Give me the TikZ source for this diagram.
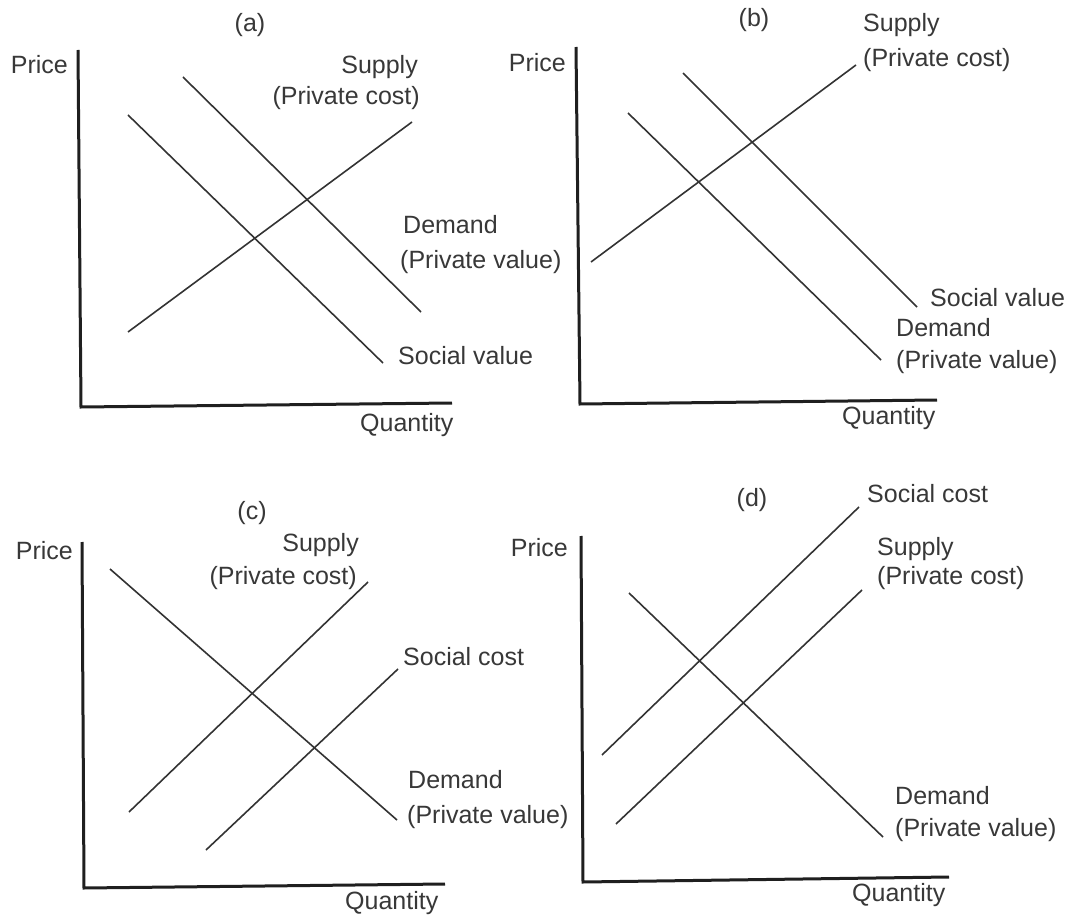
\documentclass[tikz,border=0pt]{standalone}
\usepackage{fontspec}
\setmainfont{Liberation Sans}
\begin{document}
\begin{tikzpicture}[x=1pt,y=-1pt,
  axis/.style={line width=3pt,draw=black!88,line join=miter},
  curve/.style={line width=1.6pt,draw=black!80},
  lbl/.style={inner sep=0pt,anchor=west,text=black!78,
    font=\fontsize{25}{30}\selectfont,text height=18pt,text depth=5pt},
  lblr/.style={lbl,anchor=east},
  ttl/.style={lbl,anchor=center}]
\useasboundingbox[fill=white] (0,0) rectangle (1072,920);

% ---------- (a) ----------
\coordinate (aY) at (78,50);
\coordinate (aO) at (81,407);
\coordinate (aX) at (452,403);
\draw[axis] (aY) -- (aO) -- (aX);
\coordinate (aS1) at (128,332); \coordinate (aS2) at (412,122);
\coordinate (aD1) at (183,77);  \coordinate (aD2) at (421,312);
\coordinate (aV1) at (128,115); \coordinate (aV2) at (383,363);
\draw[curve] (aS1) -- (aS2);
\draw[curve] (aD1) -- (aD2);
\draw[curve] (aV1) -- (aV2);
\node[ttl] (aT) at (250,25) {(a)};
\node[lblr] (aP) at (68,67) {Price};
\node[lbl] (aQ) at (360,425) {Quantity};
\node[lblr] (aSup) at (418,67) {Supply};
\node[lblr] (aSupB) at (420,98) {(Private cost)};
\node[lbl] (aDem) at (403,227) {Demand};
\node[lbl] (aDemB) at (400,262) {(Private value)};
\node[lbl] (aSoc) at (398,358) {Social value};

% ---------- (b) ----------
\coordinate (bY) at (576,47);
\coordinate (bO) at (580,404);
\coordinate (bX) at (937,400);
\draw[axis] (bY) -- (bO) -- (bX);
\coordinate (bS1) at (591,262); \coordinate (bS2) at (856,65);
\coordinate (bD1) at (628,113); \coordinate (bD2) at (881,360);
\coordinate (bV1) at (683,73);  \coordinate (bV2) at (917,307);
\draw[curve] (bS1) -- (bS2);
\draw[curve] (bD1) -- (bD2);
\draw[curve] (bV1) -- (bV2);
\node[ttl] (bT) at (754,20) {(b)};
\node[lblr] (bP) at (566,65) {Price};
\node[lbl] (bQ) at (842,418) {Quantity};
\node[lbl] (bSup) at (863,25) {Supply};
\node[lbl] (bSupB) at (863,60) {(Private cost)};
\node[lbl] (bSoc) at (930,300) {Social value};
\node[lbl] (bDem) at (896,330) {Demand};
\node[lbl] (bDemB) at (896,362) {(Private value)};

% ---------- (c) ----------
\coordinate (cY) at (82,542);
\coordinate (cO) at (84,888);
\coordinate (cX) at (445,884);
\draw[axis] (cY) -- (cO) -- (cX);
\coordinate (cD1) at (110,569); \coordinate (cD2) at (397,820);
\coordinate (cS1) at (129,812); \coordinate (cS2) at (368,582);
\coordinate (cC1) at (206,850); \coordinate (cC2) at (398,669);
\draw[curve] (cD1) -- (cD2);
\draw[curve] (cS1) -- (cS2);
\draw[curve] (cC1) -- (cC2);
\node[ttl] (cT) at (252,513) {(c)};
\node[lblr] (cP) at (73,553) {Price};
\node[lbl] (cQ) at (345,903) {Quantity};
\node[lblr] (cSup) at (359,545) {Supply};
\node[lblr] (cSupB) at (357,578) {(Private cost)};
\node[lbl] (cSoc) at (403,659) {Social cost};
\node[lbl] (cDem) at (408,782) {Demand};
\node[lbl] (cDemB) at (407,817) {(Private value)};

% ---------- (d) ----------
\coordinate (dY) at (581,536);
\coordinate (dO) at (583,882);
\coordinate (dX) at (949,877);
\draw[axis] (dY) -- (dO) -- (dX);
\coordinate (dC1) at (602,755); \coordinate (dC2) at (859,507);
\coordinate (dS1) at (616,824); \coordinate (dS2) at (862,590);
\coordinate (dD1) at (629,593); \coordinate (dD2) at (883,837);
\draw[curve] (dC1) -- (dC2);
\draw[curve] (dS1) -- (dS2);
\draw[curve] (dD1) -- (dD2);
\node[ttl] (dT) at (752,500) {(d)};
\node[lblr] (dP) at (568,550) {Price};
\node[lbl] (dQ) at (852,895) {Quantity};
\node[lbl] (dSoc) at (867,496) {Social cost};
\node[lbl] (dSup) at (877,549) {Supply};
\node[lbl] (dSupB) at (877,578) {(Private cost)};
\node[lbl] (dDem) at (895,798) {Demand};
\node[lbl] (dDemB) at (895,830) {(Private value)};
\end{tikzpicture}
\end{document}
